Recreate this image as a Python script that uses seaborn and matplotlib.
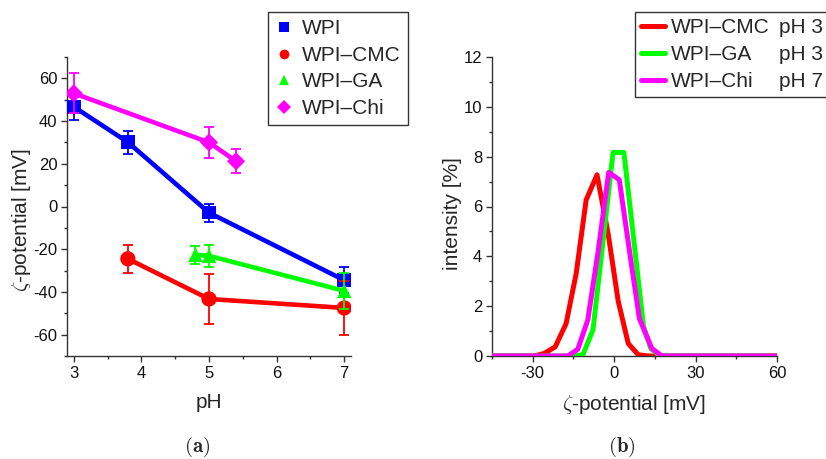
import numpy as np
import pandas as pd
import matplotlib
matplotlib.use("Agg")
import matplotlib.pyplot as plt
import seaborn as sns
from matplotlib.ticker import MultipleLocator
from matplotlib.lines import Line2D

sns.set_theme(style="ticks")
plt.rcParams["font.family"] = ["Liberation Sans", "DejaVu Sans"]
plt.rcParams["mathtext.fontset"] = "cm"
plt.rcParams["axes.unicode_minus"] = False

# ---------------- Panel (a): zeta potential vs pH ----------------
series_names = ["WPI", "WPI\u2013CMC", "WPI\u2013GA", "WPI\u2013Chi"]
wpi_ph = [3.0, 3.8, 5.0, 7.0]
wpi_zeta = [46.7, 30.1, -2.9, -34.5]
wpi_err = [6.3, 5.3, 4.3, 6.2]
cmc_ph = [3.8, 5.0, 7.0]
cmc_zeta = [-24.5, -43.3, -47.5]
cmc_err = [6.5, 11.9, 12.5]
ga_ph = [4.8, 5.0, 7.0]
ga_zeta = [-22.6, -23.1, -39.5]
ga_err = [4.1, 5.1, 8.3]
chi_ph = [3.0, 5.0, 5.4]
chi_zeta = [53.0, 30.0, 21.2]
chi_err = [9.3, 7.3, 5.5]

# ---------------- Panel (b): zeta potential distributions ----------------
dist_names = ["WPI\u2013CMC", "WPI\u2013GA", "WPI\u2013Chi"]
dist_ph = ["pH 3", "pH 3", "pH 7"]
cmc_x = [-45, -29.5, -25.8, -21.7, -17.7, -14.0, -10.3, -6.3, -2.2, 1.5, 5.2, 8.9, 12.6, 60]
cmc_y = [0, 0, 0.1, 0.37, 1.3, 3.3, 6.27, 7.27, 4.9, 2.2, 0.5, 0.05, 0, 0]
ga_x = [-45, -15.9, -11.5, -7.8, -4.1, -0.4, 3.6, 7.5, 10.8, 13.5, 17.0, 60]
ga_y = [0, 0, 0.05, 1.05, 4.6, 8.17, 8.17, 4.4, 1.2, 0.3, 0, 0]
chi_x = [-45, -17.1, -13.4, -9.7, -5.9, -2.0, 1.9, 5.8, 9.3, 13.9, 17.6, 60]
chi_y = [0, 0, 0.27, 1.45, 4.2, 7.37, 7.07, 4.1, 1.5, 0.3, 0, 0]

colors = {"blue": "#0000ff", "red": "#ff0000", "green": "#00ff00", "magenta": "#ff00ff"}

fig = plt.figure(figsize=(8.26, 4.59), dpi=100)
axA = fig.add_axes([67 / 826, 103 / 459, 284 / 826, 299 / 459])
axB = fig.add_axes([492 / 826, 103 / 459, 285 / 826, 299 / 459])

left_sets = [
    (wpi_ph, wpi_zeta, wpi_err, colors["blue"], "s", 95),
    (cmc_ph, cmc_zeta, cmc_err, colors["red"], "o", 120),
    (ga_ph, ga_zeta, ga_err, colors["green"], "^", 110),
    (chi_ph, chi_zeta, chi_err, colors["magenta"], "D", 85),
]
for i, (xs, ys, es, col, mk, sz) in enumerate(left_sets):
    z = 2 + i * 3
    sns.lineplot(x=xs, y=ys, ax=axA, color=col, lw=3.3, sort=False, zorder=z)
    axA.errorbar(xs, ys, yerr=es, fmt="none", ecolor=col, elinewidth=1.3,
                 capsize=3.5, capthick=1.3, zorder=z + 1)
    sns.scatterplot(x=xs, y=ys, ax=axA, color=col, marker=mk, s=sz,
                    edgecolor="none", linewidth=0, zorder=z + 2)

axA.set_xlim(2.9, 7.1)
axA.set_ylim(-70, 70)
axA.xaxis.set_major_locator(MultipleLocator(1))
axA.xaxis.set_minor_locator(MultipleLocator(0.5))
axA.yaxis.set_major_locator(MultipleLocator(20))
axA.yaxis.set_minor_locator(MultipleLocator(10))
axA.set_xlabel("pH", fontsize=15)
axA.set_ylabel(r"$\zeta$-potential [mV]", fontsize=15)
axA.xaxis.set_label_coords(0.5, -0.123)
axA.yaxis.set_label_coords(-0.12, 0.455)

dist_sets = [
    (cmc_x, cmc_y, colors["red"]),
    (ga_x, ga_y, colors["green"]),
    (chi_x, chi_y, colors["magenta"]),
]
for i, (xs, ys, col) in enumerate(dist_sets):
    sns.lineplot(x=xs, y=ys, ax=axB, color=col, lw=3.6, sort=False, zorder=2 + i)

axB.set_xlim(-45, 60)
axB.set_ylim(0, 12)
axB.xaxis.set_major_locator(MultipleLocator(30))
axB.xaxis.set_minor_locator(MultipleLocator(15))
axB.yaxis.set_major_locator(MultipleLocator(2))
axB.yaxis.set_minor_locator(MultipleLocator(1))
axB.set_xlabel(r"$\zeta$-potential [mV]", fontsize=15)
axB.set_ylabel("intensity [%]", fontsize=15)
axB.xaxis.set_label_coords(0.5, -0.123)
axB.yaxis.set_label_coords(-0.105, 0.478)

for ax in (axA, axB):
    for s in ("top", "right"):
        ax.spines[s].set_visible(False)
    for s in ("left", "bottom"):
        ax.spines[s].set_color("#333333")
        ax.spines[s].set_linewidth(1.0)
    ax.tick_params(which="major", direction="out", length=4, width=1,
                   color="#333333", labelsize=12, pad=3, labelcolor="#111111")
    ax.tick_params(which="minor", direction="out", length=2, width=1, color="#333333")
    ax.set_facecolor("white")
    ax.grid(False)

# Legend (a): markers only
markers = ["s", "o", "^", "D"]
mcols = [colors["blue"], colors["red"], colors["green"], colors["magenta"]]
handlesA = [Line2D([], [], ls="none", marker=m, color=c, markersize=7, markeredgewidth=0)
            for m, c in zip(markers, mcols)]
legA = fig.legend(handlesA, series_names, loc="upper left",
                  bbox_to_anchor=(268 / 826, 1 - 12 / 459), fontsize=15,
                  frameon=True, fancybox=False, framealpha=1, edgecolor="#333333",
                  borderpad=0.35, labelspacing=0.36, handlelength=0.8,
                  handletextpad=0.5, borderaxespad=0)
legA.get_frame().set_linewidth(1.0)

# Legend (b): lines + pH column
handlesB = [Line2D([], [], color=c, lw=3.6) for c in (colors["red"], colors["green"], colors["magenta"])]
blank = [Line2D([], [], ls="none") for _ in dist_ph]
legB = fig.legend(handlesB + blank, dist_names + dist_ph, loc="upper left", ncol=2,
                  bbox_to_anchor=(635 / 826, 1 - 12 / 459), fontsize=15,
                  frameon=True, fancybox=False, framealpha=1, edgecolor="#333333",
                  borderpad=0.3, labelspacing=0.38, handlelength=1.15,
                  handletextpad=0.25, columnspacing=-0.95, borderaxespad=0)
legB.get_frame().set_linewidth(1.0)

fig.text(197 / 826, 1 - 447 / 459, r"$\mathbf{(a)}$", ha="center", va="center", fontsize=15)
fig.text(622 / 826, 1 - 447 / 459, r"$\mathbf{(b)}$", ha="center", va="center", fontsize=15)

fig.savefig("out.png", dpi=100, facecolor="white")
